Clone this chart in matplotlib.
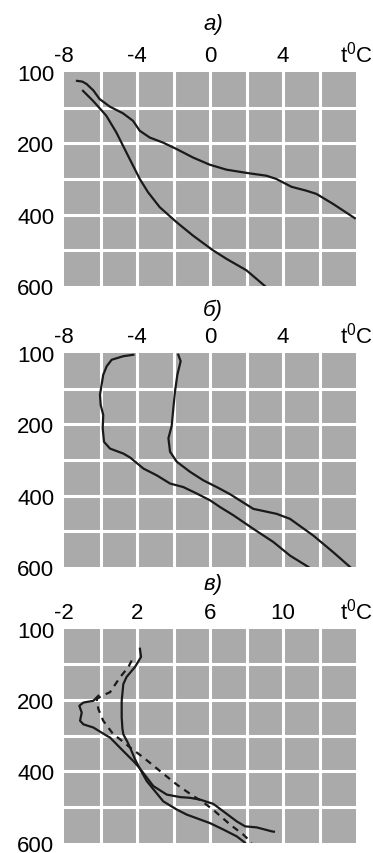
import numpy as np
import matplotlib.pyplot as plt

plt.rcParams['font.family'] = ['Liberation Sans', 'DejaVu Sans']

# level index (0..6) -> labels on the left axis
level_ticks = [0, 2, 4, 6]
level_labels = ['100', '200', '400', '600']

# panel a)
a_temp_ticks = [-8, -4, 0, 4, 8]
a_temp_labels = ['-8', '-4', '0', '4', r'$\mathregular{t^0C}$']
a1_t = [-7.29, -7.0, -6.76, -6.39, -6.05, -5.5, -4.77, -4.22, -3.85, -3.3, -2.58, -1.84,
        -0.93, -0.02, 0.9, 1.99, 3.09, 3.63, 4.46, 5.28, 5.83, 6.74, 7.93]
a1_lev = [0.25, 0.27, 0.34, 0.52, 0.76, 0.97, 1.16, 1.37, 1.65, 1.84, 1.98, 2.16,
          2.40, 2.60, 2.74, 2.83, 2.91, 3.0, 3.22, 3.33, 3.42, 3.70, 4.10]
a2_t = [-6.96, -6.41, -5.68, -5.13, -4.58, -3.85, -3.4, -2.76, -1.84, -0.93, 0.16, 0.9, 1.99, 3.0]
a2_lev = [0.53, 0.81, 1.23, 1.70, 2.26, 3.0, 3.37, 3.79, 4.21, 4.59, 5.0, 5.24, 5.56, 6.0]

# panel б)
b_temp_ticks = [-8, -4, 0, 4, 8]
b_temp_labels = ['-8', '-4', '0', '4', r'$\mathregular{t^0C}$']
b1_t = [-4.2, -4.75, -5.39, -5.66, -5.85, -5.94, -6.03, -5.99, -5.85, -5.88, -5.81, -5.48,
        -4.75, -4.38, -3.65, -2.92, -2.19, -1.46, -0.73, 0.0, 0.55, 1.28, 2.37, 3.47, 4.38, 5.39]
b1_lev = [0.05, 0.09, 0.19, 0.37, 0.61, 0.89, 1.17, 1.46, 1.74, 2.11, 2.49, 2.68,
          2.82, 2.93, 3.24, 3.43, 3.66, 3.76, 3.94, 4.13, 4.32, 4.55, 4.93, 5.30, 5.68, 6.0]
b2_t = [-1.74, -1.61, -1.79, -1.92, -2.01, -2.10, -2.28, -2.19, -1.82, -1.1, -0.37, 0.37,
        1.1, 2.37, 3.65, 4.38, 5.66, 6.76, 7.67]
b2_lev = [0.05, 0.23, 0.61, 1.08, 1.55, 2.04, 2.39, 2.77, 3.05, 3.33, 3.57, 3.76,
          3.96, 4.37, 4.51, 4.65, 5.12, 5.59, 6.0]

# panel в)
c_temp_ticks = [-2, 2, 6, 10, 14]
c_temp_labels = ['-2', '2', '6', '10', r'$\mathregular{t^0C}$']
c1_t = [2.16, 2.22, 1.89, 1.43, 1.25, 1.16, 1.16, 1.2, 1.25, 1.45, 1.62, 1.89, 2.13,
        2.53, 3.44, 4.18, 4.72, 6.0, 6.73, 7.46, 7.92]
c1_lev = [0.56, 0.79, 1.07, 1.35, 1.55, 2.02, 2.48, 2.8, 2.96, 3.15, 3.33, 3.66, 3.90,
          4.27, 4.84, 5.07, 5.21, 5.45, 5.63, 5.82, 6.0]
c2_t = [-0.12, -0.39, -0.94, -1.16, -1.03, -1.12, -0.94, -0.39, 0.34, 0.52, 1.25, 1.80, 2.13,
        2.89, 3.63, 4.36, 4.9, 5.45, 6.18, 6.73, 7.46, 7.92, 8.56, 9.38, 9.5]
c2_lev = [1.88, 2.02, 2.07, 2.16, 2.35, 2.58, 2.68, 2.77, 3.0, 3.05, 3.43, 3.71, 3.90,
          4.41, 4.65, 4.72, 4.74, 4.79, 4.91, 5.12, 5.40, 5.54, 5.57, 5.68, 5.69]
c3_t = [1.71, 1.52, 1.07, 0.52, 0.07, -0.21, -0.12, 0.15, 0.70, 1.07, 1.62, 2.35, 3.26,
        4.18, 5.08, 5.6, 6.27, 7.1, 7.82, 8.28]
c3_lev = [0.89, 1.08, 1.36, 1.78, 1.88, 1.97, 2.25, 2.58, 2.96, 3.1, 3.33, 3.61, 3.99,
          4.37, 4.69, 4.85, 5.12, 5.49, 5.77, 6.0]


def setupPanel(ax, tmin, ticks, labels, title, title_off):
    ax.set_facecolor('#aaaaaa')
    for s in ax.spines.values():
        s.set_visible(False)
    ax.set_xlim(tmin, tmin + 16)
    ax.set_ylim(6, 0)
    for x in np.arange(tmin + 2, tmin + 16, 2):
        ax.axvline(x, color='white', lw=2.2, zorder=1)
    for y in range(1, 6):
        ax.axhline(y, color='white', lw=2.2, zorder=1)
    ax.xaxis.tick_top()
    ax.set_xticks(ticks, labels)
    ax.set_yticks(level_ticks, level_labels)
    ax.tick_params(length=0, labelsize=16, colors='black')
    ax.tick_params(axis='x', pad=4)
    ax.tick_params(axis='y', pad=7)
    ax.text(0.51, 1 + title_off / 213, title, transform=ax.transAxes, ha='center',
            va='center', fontsize=16, style='italic')


fig = plt.figure(figsize=(3.73, 8.54), dpi=100)
lc = '#1a1a1a'

ax = fig.add_axes([0.1716, 0.664, 0.783, 0.2506])
setupPanel(ax, -8, a_temp_ticks, a_temp_labels, 'а)', 48)
ax.plot(a1_t, a1_lev, color=lc, lw=1.6, zorder=3)
ax.plot(a2_t, a2_lev, color=lc, lw=1.6, zorder=3)

ax = fig.add_axes([0.1716, 0.3349, 0.783, 0.2506])
setupPanel(ax, -8, b_temp_ticks, b_temp_labels, 'б)', 43)
ax.plot(b1_t, b1_lev, color=lc, lw=1.6, zorder=3)
ax.plot(b2_t, b2_lev, color=lc, lw=1.6, zorder=3)

ax = fig.add_axes([0.1716, 0.012, 0.783, 0.2506])
setupPanel(ax, -2, c_temp_ticks, c_temp_labels, 'в)', 45)
ax.plot(c1_t, c1_lev, color=lc, lw=1.6, zorder=3)
ax.plot(c2_t, c2_lev, color=lc, lw=1.6, zorder=3)
ax.plot(c3_t, c3_lev, color=lc, lw=1.6, dashes=(3, 2.5), zorder=3)

fig.savefig('out.png', dpi=100)
